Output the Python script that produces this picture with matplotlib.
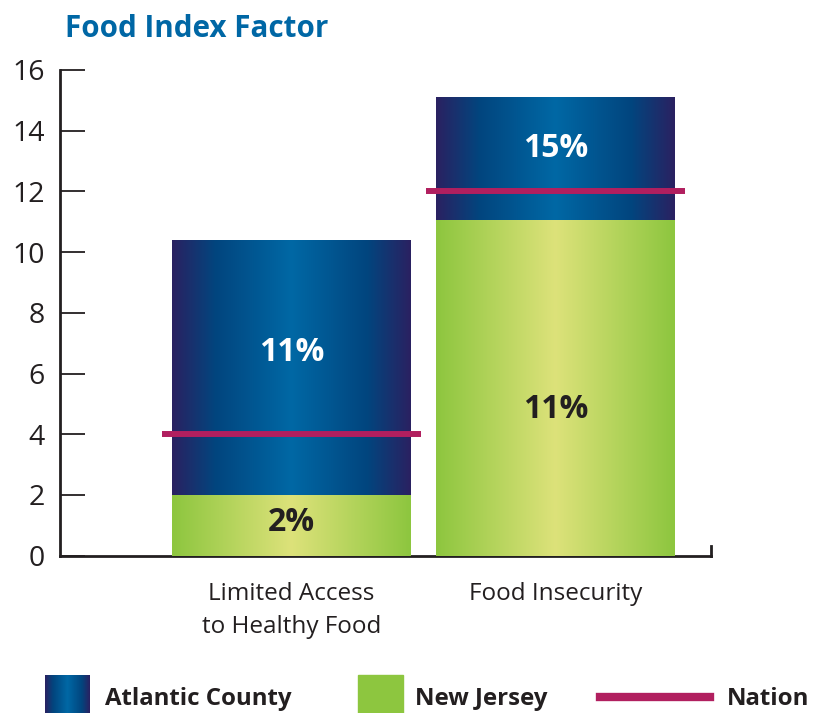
import numpy as np
import matplotlib
matplotlib.use("Agg")
import matplotlib.pyplot as plt
from matplotlib.colors import LinearSegmentedColormap

plt.rcParams['font.family'] = ['Open Sans', 'DejaVu Sans']

# data
categories = ["Limited Access\nto Healthy Food", "Food Insecurity"]
atlantic = [10.4, 15.1]
new_jersey = [2.0, 11.05]
nation = [4.0, 12.0]
atlantic_labels = ["11%", "15%"]
nj_labels = ["2%", "11%"]
yticks = [0, 2, 4, 6, 8, 10, 12, 14, 16]

# text positions of the value labels (layout only)
atl_label_y = [6.7, 13.4]
nj_label_y = [1.1, 4.8]

dark = '#231f20'
title_blue = '#0067a5'
magenta = '#b11f5f'
green = '#8dc63f'

blue_cmap = LinearSegmentedColormap.from_list(
    'ac', [(0, '#2a2161'), (0.18, '#02457e'), (0.5, '#0068a5'),
           (0.82, '#02457e'), (1, '#2a2161')])
green_cmap = LinearSegmentedColormap.from_list(
    'nj', [(0, green), (0.5, '#dde27a'), (1, green)])
grad = np.linspace(0, 1, 256).reshape(1, -1)

fig = plt.figure(figsize=(8.24, 7.13), dpi=100)
ax = fig.add_axes([60/824, 157.3/713, 651/824, 485.7/713])

x = np.arange(len(categories))
width = 0.905


def gradient_bars(values, cmap, z):
    bars = ax.bar(x, values, width, color='none', edgecolor='none', zorder=z)
    for p in bars:
        x0, y0 = p.get_x(), p.get_y()
        im = ax.imshow(grad, cmap=cmap, aspect='auto', zorder=z,
                       extent=[x0, x0 + p.get_width(), y0, y0 + p.get_height()])
        im.set_clip_path(p)


gradient_bars(atlantic, blue_cmap, 2)
gradient_bars(new_jersey, green_cmap, 3)

ax.hlines(nation, x - 0.49, x + 0.49, color=magenta, lw=4.3, zorder=5)

for i in range(len(x)):
    ax.text(x[i], atl_label_y[i], atlantic_labels[i], ha='center', va='center',
            color='white', fontsize=23, fontweight='bold', zorder=6)
    ax.text(x[i], nj_label_y[i], nj_labels[i], ha='center', va='center',
            color=dark, fontsize=23, fontweight='bold', zorder=6)

ax.set_xlim(-0.877, 1.589)
ax.set_ylim(0, 16)
ax.set_yticks(yticks)
ax.set_xticks(x)
ax.set_xticklabels(categories, linespacing=1.5)

ax.spines['top'].set_visible(False)
ax.spines['right'].set_bounds(0, 0.33)
for s in ['left', 'bottom', 'right']:
    ax.spines[s].set_color(dark)
    ax.spines[s].set_linewidth(2)

ax.tick_params(axis='y', direction='in', length=18, width=1.3, color=dark,
               labelsize=20.5, labelcolor=dark, pad=11)
ax.tick_params(axis='x', length=0, labelsize=17.5, labelcolor=dark, pad=19)

fig.text(65/824, 1 - 37/713, "Food Index Factor", color=title_blue,
         fontsize=21.3, fontweight='bold', va='baseline', ha='left')

# legend
lax = fig.add_axes([45/824, 0, 45/824, 38/713])
lax.imshow(grad, cmap=blue_cmap, aspect='auto')
lax.axis('off')
fig.patches.append(plt.Rectangle((358/824, 0), 45/824, 38/713, color=green,
                                 transform=fig.transFigure))
fig.lines.append(plt.Line2D([600/824, 710/824], [16/713, 16/713], color=magenta,
                            lw=6, transform=fig.transFigure))
for xp, t in [(105, "Atlantic County"), (415, "New Jersey"), (727, "Nation")]:
    fig.text(xp/824, 14/713, t, fontsize=17.3, fontweight='bold', color=dark,
             va='center', ha='left')

fig.savefig("out.png", dpi=100)
